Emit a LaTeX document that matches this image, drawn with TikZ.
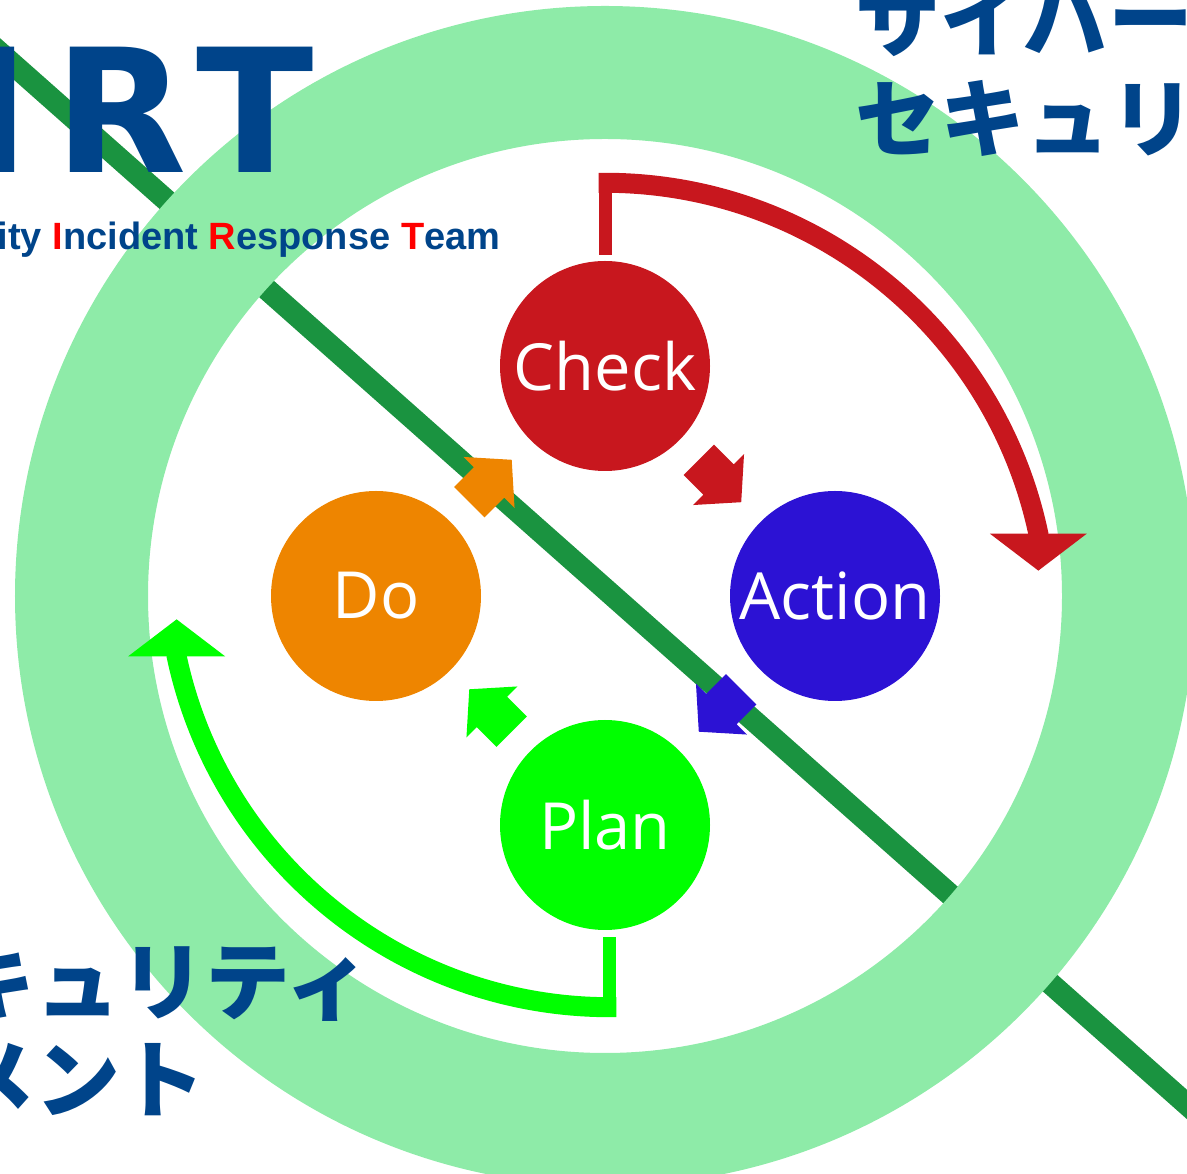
\documentclass[tikz,border=0pt]{standalone}
\usepackage{fontspec}
\usetikzlibrary{arrows.meta, calc}
\newfontfamily\stagefont{Open Sans}
\newfontfamily\logofont{DejaVu Sans}
\newfontfamily\teamfont{Liberation Sans}
\newfontfamily\jpfont{Noto Sans CJK JP}
\definecolor{ringgreen}{RGB}{142,235,168}
\definecolor{linegreen}{RGB}{26,147,64}
\definecolor{logoblue}{RGB}{0,68,138}
\definecolor{checkred}{RGB}{200,23,30}
\definecolor{actionblue}{RGB}{44,18,212}
\definecolor{doorange}{RGB}{238,133,0}
\definecolor{planlime}{RGB}{0,255,0}

\tikzset{
  pdcastep/.style={circle, minimum size=210bp, inner sep=0pt, text=white, font=\stagefont\fontsize{65bp}{70bp}\selectfont},
  jptext/.style={anchor=base west, inner sep=0pt, text=logoblue, font=\jpfont\bfseries\fontsize{85bp}{100bp}\selectfont},
  stub/.style={line width=13bp},
  sweep/.style={line width=20bp, -{Triangle[length=37bp, width=95bp]}},
  blockarrow/.pic={\fill (-30,-21.5) -- (-2,-21.5) -- (-2,-36) -- (30,0) -- (-2,36) -- (-2,21.5) -- (-30,21.5) -- cycle;}
}

\begin{document}
\begin{tikzpicture}[x=1bp, y=1bp]
    \useasboundingbox (0,0) rectangle (1187,1174);
    \clip (0,0) rectangle (1187,1174);
    \coordinate (centre) at (605,578);
    \draw[linegreen, line width=22bp] (-10,1130) -- (1200,58);
    \draw[ringgreen, line width=133bp] (centre) circle[radius=523.5];
    \node[anchor=base west, inner sep=0pt, text=logoblue, font=\logofont\bfseries\fontsize{172bp}{180bp}\selectfont] (logo) at (-34,1001) {I\kern24bp R\kern10bp T};
    \node[anchor=base west, inner sep=0pt, text=logoblue, font=\teamfont\bfseries\fontsize{38bp}{40bp}\selectfont] (team) at (-2.5,924) {ity {\color{red}I}ncident {\color{red}R}esponse {\color{red}T}eam};
    \node[jptext] (cyber) at (855,1123) {サイバー};
    \node[jptext] (secu) at (855,1023) {セキュリ};
    \node[jptext] (curity) at (-50,160) {キュリティ};
    \node[jptext] (ment) at (-50,62) {メント};
    \node[pdcastep, fill=checkred] (check) at ($(centre)+(0,230)$) {Check};
    \node[pdcastep, fill=actionblue] (action) at ($(centre)+(230,0)$) {Action};
    \node[pdcastep, fill=doorange] (do) at ($(centre)+(-229,0)$) {Do};
    \node[pdcastep, fill=planlime] (plan) at ($(centre)+(0,-229)$) {Plan};
    \pic[fill=checkred, rotate=-45] at ($(check)!.5!(action)$) {blockarrow};
    \pic[fill=doorange, rotate=45] at ($(do)!.5!(check)$) {blockarrow};
    \pic[fill=planlime, rotate=135] at ($(plan)!.5!(do)$) {blockarrow};
    \pic[fill=actionblue, rotate=-135] at ($(action)!.5!(plan)$) {blockarrow};
    \draw[stub, checkred] ([yshift=6]check.north) -- ++(0,82) coordinate (checktop);
    \draw[sweep, checkred] ([xshift=-6.5,yshift=-10]checktop) -- ++(6.5,0) arc[start angle=90, end angle=12, radius=443] -- ++(0,-37);
    \draw[stub, planlime] ([xshift=5,yshift=-7]plan.south) -- ++(0,-80) coordinate (planbottom);
    \draw[sweep, planlime] ([xshift=6.5,yshift=10]planbottom) -- ++(-6.5,0) arc[start angle=270, end angle=192, radius=443] -- ++(0,37);
\end{tikzpicture}
\end{document}
